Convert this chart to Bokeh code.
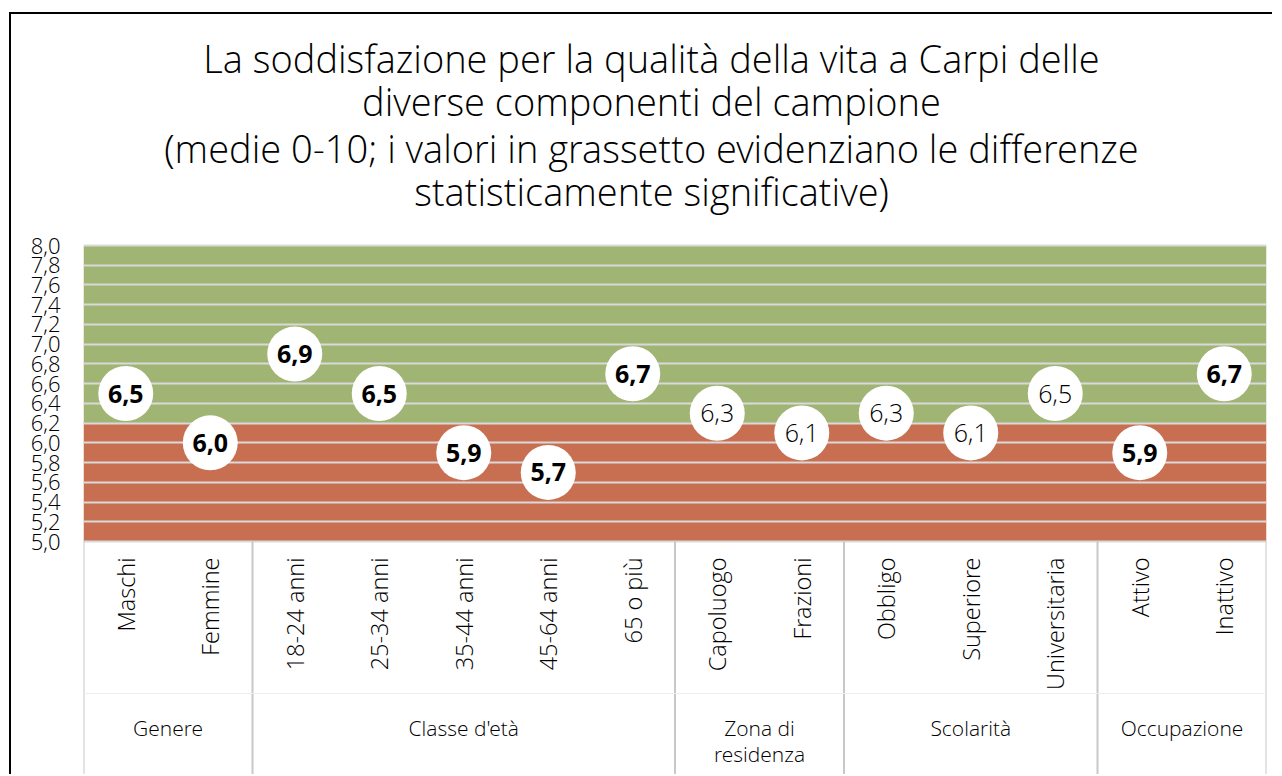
import math
from bokeh.plotting import figure
from bokeh.models import Range1d, FixedTicker, CustomJSTickFormatter, Label, ColumnDataSource
from bokeh.core.properties import value
from bokeh.embed import file_html
from bokeh.resources import INLINE

# ---------------- data ----------------
categories = ["Maschi", "Femmine", "18-24 anni", "25-34 anni", "35-44 anni",
              "45-64 anni", "65 o più", "Capoluogo", "Frazioni", "Obbligo",
              "Superiore", "Universitaria", "Attivo", "Inattivo"]
values = [6.5, 6.0, 6.9, 6.5, 5.9, 5.7, 6.7, 6.3, 6.1, 6.3, 6.1, 6.5, 5.9, 6.7]
significant = [True, True, True, True, True, True, True,
               False, False, False, False, False, True, True]
groups = ["Genere", "Classe d'età", "Zona di\nresidenza", "Scolarità", "Occupazione"]
group_sizes = [2, 5, 2, 3, 2]
y_ticks = [5.0, 5.2, 5.4, 5.6, 5.8, 6.0, 6.2, 6.4, 6.6, 6.8, 7.0, 7.2, 7.4, 7.6, 7.8, 8.0]
y_low, y_high = 5.0, 8.0
threshold = 6.2
title_lines = ["La soddisfazione per la qualità della vita a Carpi delle",
               "diverse componenti del campione",
               "(medie 0-10; i valori in grassetto evidenziano le differenze",
               "statisticamente significative)"]

# ---------------- layout constants ----------------
W, H = 1263, 762
FRAME_LEFT, FRAME_RIGHT = 72, 1255
PLOT_TOP = 231            # canvas y of the 8,0 line
px_per_unit = 296 / (y_high - y_low)
n = len(categories)
px_per_cat = (FRAME_RIGHT - FRAME_LEFT) / n


def y_at(canvas_y):
    return y_high - (canvas_y - PLOT_TOP) / px_per_unit


def x_at(canvas_x):
    return (canvas_x - FRAME_LEFT) / px_per_cat


y_bottom, y_top = y_at(H), y_at(0)

FONT = "Open Sans"
LIGHT = "'Open Sans Light', 'Open Sans'"

p = figure(width=W, height=H, output_backend="svg", toolbar_location=None, title=None,
           x_range=Range1d(0, n), y_range=Range1d(y_bottom, y_top),
           x_axis_location=None,
           min_border_left=FRAME_LEFT, min_border_right=W - FRAME_RIGHT,
           min_border_top=0, min_border_bottom=0,
           outline_line_color=None, background_fill_color="white",
           border_fill_color="white")

p.styles = {"border-left": "2px solid black", "border-top": "2px solid black",
            "position": "relative", "left": "9px", "top": "12px"}

# title lines
title_centers = [43, 86, 133, 176]
for line, cy in zip(title_lines, title_centers):
    p.add_layout(Label(x=x_at(640), y=y_at(cy), text=line, text_align="center",
                       text_baseline="middle", text_font=LIGHT, text_font_size="38px",
                       text_color="black"))

# y axis
p.yaxis.ticker = FixedTicker(ticks=y_ticks)
p.yaxis.formatter = CustomJSTickFormatter(code="return tick.toFixed(1).replace('.', ',');")
p.yaxis.axis_line_color = None
p.yaxis.major_tick_line_color = None
p.yaxis.minor_tick_line_color = None
p.yaxis.major_tick_out = 0
p.yaxis.major_label_standoff = 23
p.yaxis.major_label_text_font = LIGHT
p.yaxis.major_label_text_font_size = "22px"
p.yaxis.major_label_text_color = "black"

# grid
p.xgrid.visible = False
p.ygrid.ticker = FixedTicker(ticks=y_ticks)
p.ygrid.grid_line_color = "#D9D9D9"
p.ygrid.grid_line_width = 2

# bands
p.quad(left=[0, 0], right=[n, n], bottom=[y_low, threshold], top=[threshold, y_high],
       fill_color=["#C86F52", "#A0B574"], line_color=None, level="image")

# separators below the plot area
bounds = [0]
for s in group_sizes:
    bounds.append(bounds[-1] + s)
p.segment(x0=bounds, x1=bounds, y0=[y_low] * len(bounds), y1=[y_bottom] * len(bounds),
          line_color="#C8C8C8", line_width=2)
p.segment(x0=[0], x1=[n], y0=[y_at(679)], y1=[y_at(679)], line_color="#EDEDED", line_width=1)

# points
src = ColumnDataSource(dict(
    x=[i + 0.5 for i in range(n)],
    y=values,
    label=[f"{v:.1f}".replace(".", ",") for v in values],
    style=["bold" if s else "normal" for s in significant],
    font=[FONT if s else LIGHT for s in significant],
))
p.scatter(x="x", y="y", source=src, size=55, marker="circle", fill_color="white", line_color=None)
p.text(x="x", y="y", text="label", source=src, text_font="font", text_font_size="25px",
       text_font_style="style", text_align="center", text_baseline="middle", text_color="black")

# category labels (rotated)
p.text(x=[i + 0.5 for i in range(n)], y=[y_at(543)] * n, text=categories, angle=math.pi / 2,
       text_align="right", text_baseline="middle", text_font=value(LIGHT),
       text_font_size="23.5px", text_color="black")

# group labels
gx = [(bounds[i] + bounds[i + 1]) / 2 for i in range(len(groups))]
p.text(x=gx, y=[y_at(699)] * len(groups), text=groups, text_align="center", text_baseline="top",
       text_font=value(LIGHT), text_font_size="21px", text_color="black",
       text_line_height=0.95)

open("out.html", "w").write(file_html(p, INLINE))
